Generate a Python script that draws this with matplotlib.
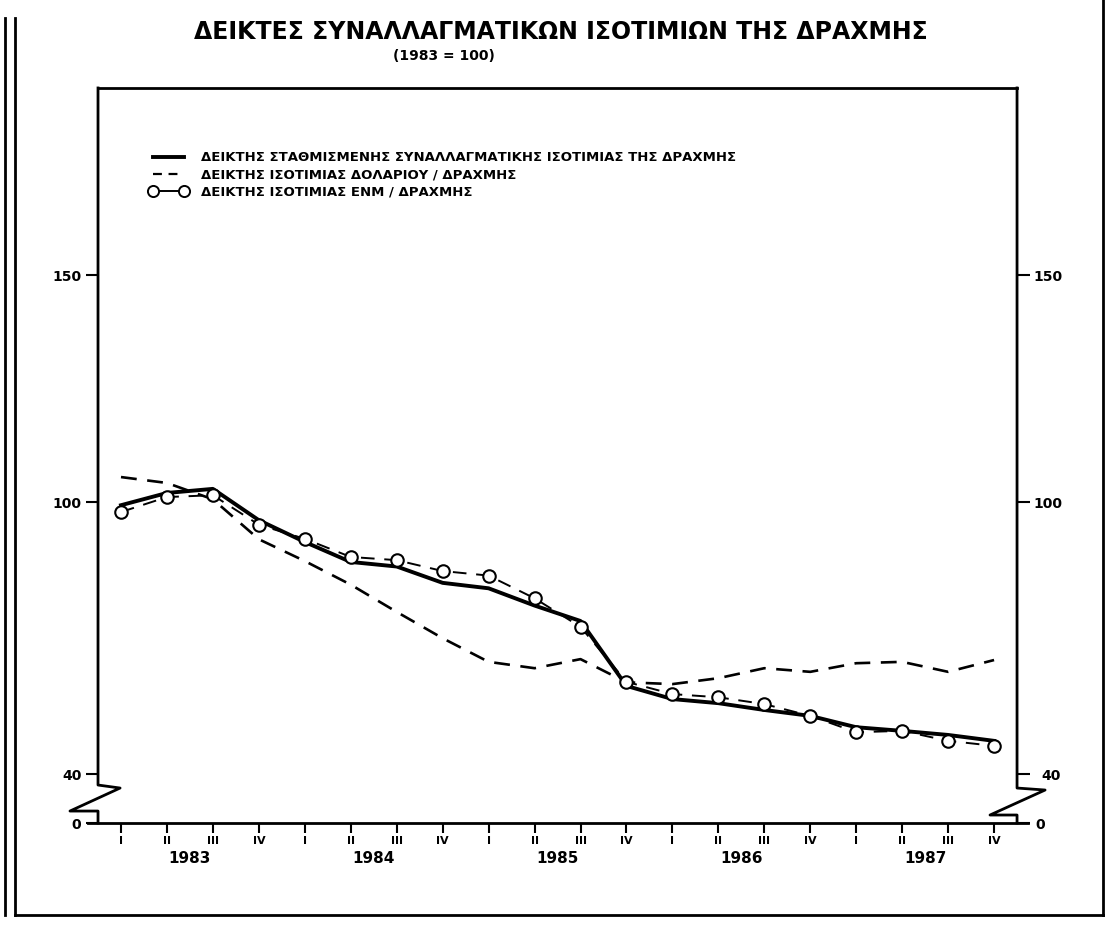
import matplotlib
matplotlib.use('Agg')
import matplotlib.pyplot as plt
from matplotlib.lines import Line2D
from matplotlib.transforms import ScaledTranslation

plt.rcParams['font.family'] = ['DejaVu Sans']

# Quarterly indices 1983 I .. 1987 IV (1983 = 100)
quarters = ['I', 'II', 'III', 'IV'] * 5
years = ['1983', '1984', '1985', '1986', '1987']
weighted = [99.3, 102.0, 102.9, 96.0, 91.2, 86.8, 85.8, 82.2, 81.0, 77.2,
            73.8, 59.5, 56.6, 55.7, 54.2, 52.9, 50.4, 49.6, 48.7, 47.4]
dollar = [105.5, 104.2, 100.6, 91.8, 87.0, 81.8, 75.8, 70.0, 64.8, 63.4,
          65.4, 60.3, 59.9, 61.2, 63.4, 62.6, 64.5, 64.8, 62.6, 65.2]
ecu = [97.8, 101.1, 101.5, 95.0, 91.9, 87.9, 87.2, 84.8, 83.8, 78.8,
       72.5, 60.4, 57.7, 57.0, 55.5, 52.9, 49.3, 49.6, 47.4, 46.3]
ytick_vals = [40, 100, 150]
ytick_labels = ['40', '100', '150']
labels = ['ΔΕΙΚΤΗΣ ΣΤΑΘΜΙΣΜΕΝΗΣ ΣΥΝΑΛΛΑΓΜΑΤΙΚΗΣ ΙΣΟΤΙΜΙΑΣ ΤΗΣ ΔΡΑΧΜΗΣ',
          'ΔΕΙΚΤΗΣ ΙΣΟΤΙΜΙΑΣ ΔΟΛΑΡΙΟΥ / ΔΡΑΧΜΗΣ',
          'ΔΕΙΚΤΗΣ ΙΣΟΤΙΜΙΑΣ ΕΝΜ / ΔΡΑΧΜΗΣ']

YMIN, YMAX = 29.3, 191.2

fig = plt.figure(figsize=(11.05, 9.26), dpi=100)
ax = fig.add_axes([0.0887, 0.1112, 0.8317, 0.7938])

x = list(range(len(quarters)))
ax.plot(x, weighted, color='black', lw=2.8, solid_joinstyle='round')
ax.plot(x, dollar, color='black', lw=1.9, dashes=(6, 4))
ax.plot(x, ecu, color='black', lw=1.4, dashes=(7, 5), marker='o', ms=9,
        mfc='white', mec='black', mew=1.5)

ax.set_xlim(-0.5, 19.5)
ax.set_ylim(YMIN, YMAX)

# frame with axis breaks
for s in ['left', 'right', 'bottom']:
    ax.spines[s].set_visible(False)
ax.spines['top'].set_linewidth(2)
kw = dict(transform=ax.transAxes, clip_on=False, color='black', lw=2)
ax.plot([0, 0, 0.024, -0.0305, 0, 0], [1, 0.0517, 0.0476, 0.0163, 0.0163, 0], **kw)
ax.plot([1, 1, 1.0305, 0.9706, 1, 1], [1, 0.0476, 0.0449, 0.0109, 0.0109, 0], **kw)
ax.plot([-0.011, 1.012], [0, 0], **kw)

# ticks
ax.set_xticks(x)
ax.set_xticklabels(quarters, fontsize=8, fontweight='bold')
ax.tick_params(axis='x', direction='out', length=7, width=1.5, pad=2)
ax.set_yticks(ytick_vals + [YMIN])
ax.set_yticklabels(ytick_labels + ['0'], fontsize=10, fontweight='bold')
ax.tick_params(axis='y', direction='out', length=9, width=1.5, pad=3,
               right=True, labelright=True)
for t, v in zip(ax.yaxis.get_major_ticks(), ytick_vals + [YMIN]):
    if v in (40, YMIN):
        dx = 8 if v == 40 else 2
        t.label2.set_transform(t.label2.get_transform() +
                               ScaledTranslation(dx / 100, 0, fig.dpi_scale_trans))

for i, yr in enumerate(years):
    ax.text(4 * i + 1.5, -0.048, yr, transform=ax.get_xaxis_transform(),
            ha='center', va='center', fontsize=11, fontweight='bold')

handles = [Line2D([], [], color='black', lw=2.8),
           Line2D([], [], color='black', lw=1.6, dashes=(4, 3)),
           Line2D([], [], color='black', lw=1.4, marker='o', ms=8,
                  mfc='white', mec='black', mew=1.4)]
ax.legend(handles, labels, loc='upper left', bbox_to_anchor=(0.043, 0.93),
          frameon=False, numpoints=2, handlelength=2.9, handletextpad=1.0,
          labelspacing=0.3, prop={'size': 9.5, 'weight': 'bold'})

fig.text(0.508, 0.9654, 'ΔΕΙΚΤΕΣ ΣΥΝΑΛΛΑΓΜΑΤΙΚΩΝ ΙΣΟΤΙΜΙΩΝ ΤΗΣ ΔΡΑΧΜΗΣ',
         ha='center', va='center', fontsize=17, fontweight='bold')
fig.text(0.402, 0.9395, '(1983 = 100)', ha='center', va='center',
         fontsize=10, fontweight='bold')

# scanned page border
fk = dict(transform=fig.transFigure, color='black', lw=2)
fig.add_artist(Line2D([0.0045, 0.0045], [0.981, 0.012], **fk))
fig.add_artist(Line2D([0.0136, 0.0136], [0.981, 0.012], **fk))
fig.add_artist(Line2D([0.0136, 1.0], [0.012, 0.012], **fk))
fig.add_artist(Line2D([0.998, 0.998], [1.0, 0.012], **fk))

fig.savefig('out.png', dpi=100, facecolor='white')
